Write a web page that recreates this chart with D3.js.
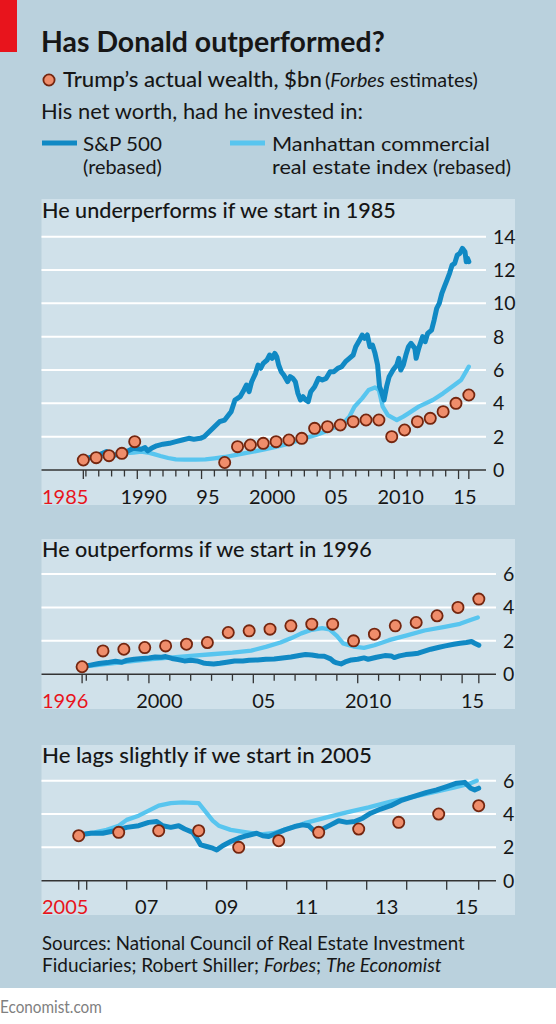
<!DOCTYPE html>
<html><head><meta charset="utf-8">
<script src="https://cdn.jsdelivr.net/npm/d3@7"></script>
<style>
html,body{margin:0;padding:0;background:#fff;}
svg{display:block;}
text{font-family:Lato,"Open Sans",sans-serif;fill:#161616;}
</style></head><body>
<svg id="c" width="556" height="1024"></svg>
<script>
// ---------- DATA ----------
const forbesYears  = [1985,1986,1987,1988,1989,1996,1997,1998,1999,2000,2001,2002,2003,2004,2005,2006,2007,2008,2009,2010,2011,2012,2013,2014,2015];
const forbesWealth = [0.6,0.74,0.86,1.0,1.7,0.45,1.4,1.5,1.6,1.7,1.8,1.9,2.5,2.6,2.7,2.9,3.0,3.0,2.0,2.4,2.9,3.1,3.5,4.0,4.5];
const forbesMonthFraction = 0.8; // estimates published each autumn

// Panel 1: start 1985
const sp85Dates = [1985.8,1986.3,1986.7,1987.3,1987.6,1987.85,1988.3,1988.8,1989.3,1989.7,1990.3,1990.6,1990.8,1991.1,1991.5,1992.0,1992.5,1993.0,1993.5,1994.0,1994.4,1994.9,1995.2,1995.6,1996.0,1996.4,1996.8,1997.1,1997.3,1997.6,1997.8,1998.0,1998.3,1998.5,1998.7,1998.9,1999.2,1999.4,1999.6,1999.8,2000.1,2000.3,2000.5,2000.7,2000.85,2001.0,2001.2,2001.4,2001.7,2001.9,2002.1,2002.3,2002.5,2002.7,2002.9,2003.1,2003.3,2003.5,2003.8,2004.1,2004.4,2004.7,2005.0,2005.3,2005.6,2005.9,2006.2,2006.5,2006.8,2007.0,2007.3,2007.5,2007.7,2007.9,2008.1,2008.3,2008.5,2008.7,2008.85,2009.0,2009.2,2009.4,2009.6,2009.9,2010.2,2010.35,2010.5,2010.7,2010.9,2011.1,2011.3,2011.6,2011.7,2011.9,2012.2,2012.4,2012.6,2012.9,2013.1,2013.3,2013.5,2013.7,2013.9,2014.1,2014.3,2014.5,2014.7,2014.9,2015.1,2015.3,2015.5,2015.6,2015.7,2015.8];
const sp85Values = [0.6,0.75,0.8,1.0,1.1,0.85,0.9,1.0,1.15,1.3,1.25,1.35,1.15,1.3,1.45,1.55,1.6,1.7,1.8,1.9,1.85,1.9,2.0,2.3,2.6,2.9,3.0,3.3,3.5,4.2,4.3,4.4,4.8,5.1,4.7,5.3,5.8,6.3,6.1,6.4,6.6,6.9,6.7,7.0,6.8,6.3,5.9,5.7,5.3,5.6,5.5,5.3,4.6,4.2,4.4,4.2,4.1,4.7,5.0,5.5,5.4,5.5,5.9,5.9,6.1,6.2,6.5,6.7,6.9,7.4,7.8,8.1,7.9,8.1,7.4,7.5,7.0,6.3,5.0,4.7,4.2,5.0,5.6,6.0,6.3,6.7,6.0,6.3,6.9,7.4,7.6,7.3,6.7,7.3,8.0,7.7,8.2,8.4,9.0,9.7,10.0,10.6,11.0,11.4,11.8,12.3,12.4,12.9,13.0,13.3,13.1,12.5,12.7,12.5];
const re85Dates = [1985.8,1986.3,1987.0,1987.9,1988.8,1989.7,1990.3,1990.8,1991.3,1991.8,1992.4,1993.0,1993.7,1994.5,1995.3,1996.0,1996.8,1997.5,1998.2,1999.0,1999.8,2000.6,2001.5,2002.3,2003.0,2003.9,2004.6,2005.2,2005.9,2006.5,2006.9,2007.5,2008.0,2008.5,2008.8,2009.1,2009.5,2010.2,2010.7,2011.1,2011.9,2013.0,2013.8,2014.6,2015.2,2015.8];
const re85Values = [0.62,0.75,0.85,0.9,1.0,1.05,1.1,1.05,0.95,0.84,0.72,0.64,0.62,0.62,0.64,0.7,0.78,0.88,0.98,1.1,1.22,1.36,1.52,1.72,1.9,2.1,2.3,2.5,2.7,3.2,3.8,4.3,4.8,4.95,4.8,3.8,3.3,3.0,3.2,3.4,3.8,4.2,4.6,5.05,5.4,6.2];

// Panel 2: start 1996
const sp96Dates = [1996.8,1997.2,1997.6,1998.0,1998.4,1998.7,1998.9,1999.3,1999.7,2000.0,2000.3,2000.6,2000.8,2001.1,2001.4,2001.7,2002.0,2002.3,2002.6,2002.8,2003.1,2003.4,2003.8,2004.1,2004.5,2004.8,2005.2,2005.6,2006.0,2006.4,2006.8,2007.2,2007.5,2007.8,2008.1,2008.4,2008.7,2008.85,2009.0,2009.2,2009.4,2009.7,2010.0,2010.3,2010.5,2010.9,2011.3,2011.6,2011.75,2012.0,2012.3,2012.6,2012.9,2013.2,2013.5,2013.9,2014.2,2014.6,2014.9,2015.2,2015.45,2015.6,2015.8];
const sp96Values = [0.46,0.55,0.65,0.7,0.78,0.72,0.82,0.9,0.95,0.98,1.04,1.02,1.06,0.95,0.88,0.8,0.84,0.8,0.68,0.64,0.62,0.66,0.74,0.8,0.8,0.84,0.86,0.9,0.92,0.98,1.04,1.12,1.18,1.16,1.1,1.08,0.92,0.76,0.68,0.62,0.74,0.86,0.9,0.98,0.9,1.02,1.12,1.1,1.0,1.1,1.18,1.22,1.26,1.38,1.5,1.62,1.7,1.8,1.86,1.9,1.96,1.86,1.74];
const re96Dates = [1996.8,1997.5,1998.0,1999.0,2000.0,2001.0,2002.0,2003.0,2004.0,2004.9,2005.6,2006.3,2006.8,2007.3,2007.8,2008.3,2008.65,2009.0,2009.3,2009.8,2010.3,2010.8,2011.5,2012.4,2013.2,2014.1,2014.9,2015.4,2015.75];
const re96Values = [0.46,0.55,0.62,0.76,0.9,1.0,1.1,1.2,1.3,1.42,1.64,1.9,2.15,2.45,2.66,2.76,2.68,2.3,1.85,1.66,1.58,1.74,2.04,2.34,2.62,2.82,3.02,3.25,3.4];

// Panel 3: start 2005
const sp05Dates = [2005.8,2006.1,2006.4,2006.7,2007.0,2007.3,2007.55,2007.75,2007.9,2008.1,2008.3,2008.45,2008.65,2008.75,2008.85,2009.0,2009.15,2009.25,2009.4,2009.6,2009.8,2010.0,2010.25,2010.4,2010.55,2010.75,2010.95,2011.2,2011.4,2011.55,2011.7,2011.85,2012.1,2012.3,2012.5,2012.7,2012.9,2013.1,2013.35,2013.6,2013.85,2014.1,2014.3,2014.5,2014.75,2015.0,2015.25,2015.45,2015.6,2015.7,2015.8];
const sp05Values = [2.75,2.85,2.85,3.0,3.2,3.3,3.5,3.55,3.3,3.2,3.3,3.1,2.9,2.55,2.15,2.05,1.95,1.85,2.1,2.35,2.55,2.7,2.85,2.7,2.65,2.85,3.05,3.25,3.35,3.3,2.95,3.05,3.35,3.6,3.5,3.55,3.75,4.05,4.3,4.5,4.8,5.0,5.15,5.3,5.45,5.65,5.85,5.9,5.55,5.45,5.55];
const re05Dates = [2005.8,2006.2,2006.5,2006.8,2007.0,2007.3,2007.55,2007.8,2008.1,2008.4,2008.8,2008.95,2009.15,2009.3,2009.6,2010.0,2010.35,2010.65,2011.0,2011.45,2012.0,2012.5,2013.05,2013.6,2014.1,2014.65,2015.2,2015.55,2015.75];
const re05Values = [2.75,2.9,3.05,3.3,3.65,3.9,4.2,4.5,4.65,4.7,4.65,4.2,3.6,3.3,3.05,2.9,2.78,2.85,3.1,3.45,3.8,4.1,4.4,4.75,5.0,5.3,5.6,5.8,6.0];

// Axis ticks / labels
const yTicks1 = [0,2,4,6,8,10,12,14];
const yTicks23 = [0,2,4,6];
const xLabelYears1 = [1985,1990,1995,2000,2005,2010,2015];
const xLabelText1  = ["1985","1990","95","2000","05","2010","15"];
const xLabelYears2 = [1996,2000,2005,2010,2015];
const xLabelText2  = ["1996","2000","05","2010","15"];
const xLabelYears3 = [2005,2007,2009,2011,2013,2015];
const xLabelText3  = ["2005","07","09","11","13","15"];

// ---------- STYLE ----------
const C = {
  outer:"#bad1dd", panel:"#d0e1ea", red:"#e8141c", sp:"#1089c4", re:"#58c5ef",
  dotFill:"#ef8d6b", dotStroke:"#74260f", axis:"#333", text:"#161616"
};

const svg = d3.select("#c");
svg.append("rect").attr("x",0).attr("y",0).attr("width",556).attr("height",988).attr("fill",C.outer);
svg.append("rect").attr("x",0).attr("y",0).attr("width",17).attr("height",52).attr("fill",C.red);

function fit(t, target){
  const w = t.node().getBBox().width;
  if (w > 0) {
    const x = +t.attr("x");
    t.attr("transform", `translate(${x},0) scale(${target/w},1) translate(${-x},0)`);
  }
  return t;
}

// Title
fit(svg.append("text").attr("x",41).attr("y",52).attr("font-size",29).attr("font-weight",700)
  .text("Has Donald outperformed?"), 344);

// Legend
svg.append("circle").attr("cx",49).attr("cy",80).attr("r",5.6)
  .attr("fill",C.dotFill).attr("stroke",C.dotStroke).attr("stroke-width",1.8);
fit(svg.append("text").attr("x",63).attr("y",87).attr("font-size",21).attr("font-weight",500)
  .text("Trump’s actual wealth, $bn"), 259);
{
  const t = svg.append("text").attr("x",325).attr("y",87).attr("font-size",19);
  t.append("tspan").text("(");
  t.append("tspan").attr("font-style","italic").text("Forbes");
  t.append("tspan").text(" estimates)");
  fit(t,153);
}
fit(svg.append("text").attr("x",41).attr("y",119).attr("font-size",21)
  .text("His net worth, had he invested in:"), 322);

svg.append("line").attr("x1",42).attr("x2",77).attr("y1",143).attr("y2",143)
  .attr("stroke",C.sp).attr("stroke-width",5);
fit(svg.append("text").attr("x",83).attr("y",151.5).attr("font-size",20).text("S&P 500"),79);
fit(svg.append("text").attr("x",83).attr("y",174).attr("font-size",18.5).text("(rebased)"),79);

svg.append("line").attr("x1",230).attr("x2",265).attr("y1",143).attr("y2",143)
  .attr("stroke",C.re).attr("stroke-width",5);
fit(svg.append("text").attr("x",272).attr("y",151.5).attr("font-size",20).text("Manhattan commercial"),218);
fit(svg.append("text").attr("x",272).attr("y",174).attr("font-size",19.5).text("real estate index"),156);
fit(svg.append("text").attr("x",433).attr("y",174).attr("font-size",18.5).text("(rebased)"),78);

// ---------- PANELS ----------
const zip = (a,b) => a.map((d,i)=>[d,b[i]]);

function panel(cfg){
  const g = svg.append("g");
  g.append("rect").attr("x",41.5).attr("y",cfg.top).attr("width",515-41.5).attr("height",cfg.bottom-cfg.top)
    .attr("fill",C.panel);
  fit(g.append("text").attr("x",42).attr("y",cfg.titleY).attr("font-size",21).attr("font-weight",500)
    .text(cfg.title), cfg.titleW);

  const x = d3.scaleLinear().domain(cfg.xDomain).range(cfg.xRange);
  const y = d3.scaleLinear().domain(cfg.yDomain).range(cfg.yRange);

  // gridlines
  g.selectAll(".grid").data(cfg.yTicks.filter(v=>v>0)).join("line")
    .attr("x1",41.5).attr("x2",cfg.gridRight).attr("y1",d=>y(d)).attr("y2",d=>y(d))
    .attr("stroke","#fff").attr("stroke-width",2);
  // y labels
  g.selectAll(".yl").data(cfg.yTicks).join("text")
    .attr("x",cfg.gridRight+7).attr("y",d=>y(d)+7).attr("font-size",19.5)
    .text(d=>d);
  // axis
  g.append("line").attr("x1",41.5).attr("x2",cfg.gridRight).attr("y1",y(0)).attr("y2",y(0))
    .attr("stroke",C.axis).attr("stroke-width",1.4);
  const tickYears = d3.range(Math.ceil(cfg.start), Math.floor(cfg.end)+1);
  const ticks = [cfg.start, ...tickYears, cfg.end];
  g.selectAll(".tk").data(ticks).join("line")
    .attr("x1",d=>x(d)).attr("x2",d=>x(d)).attr("y1",y(0)).attr("y2",d=>y(0)+ (cfg.longTick(d)?9:6.5))
    .attr("stroke",C.axis).attr("stroke-width",1.3);
  // x labels
  g.selectAll(".xl").data(cfg.labelYears).join("text")
    .attr("x",(d,i)=> i===0 ? 42 : x(d+0.5))
    .attr("text-anchor",(d,i)=> i===0 ? "start" : "middle")
    .attr("y",cfg.bottom-1).attr("font-size",20)
    .style("fill",(d,i)=> i===0 ? C.red : C.text)
    .text((d,i)=>cfg.labelText[i]);

  const line = d3.line().x(d=>x(d[0])).y(d=>y(d[1]));
  g.append("path").datum(zip(cfg.reDates,cfg.reValues)).attr("d",line)
    .attr("fill","none").attr("stroke",C.re).attr("stroke-width",4.3).attr("stroke-linejoin","round").attr("stroke-linecap","round");
  g.append("path").datum(zip(cfg.spDates,cfg.spValues)).attr("d",line)
    .attr("fill","none").attr("stroke",C.sp).attr("stroke-width",5).attr("stroke-linejoin","round").attr("stroke-linecap","round");

  const dots = forbesYears.map((yr,i)=>[yr+forbesMonthFraction, forbesWealth[i]]).filter(d=>d[0]>=cfg.start-0.01);
  g.selectAll(".dot").data(dots).join("circle")
    .attr("cx",d=>x(d[0])).attr("cy",d=>y(d[1])).attr("r",5.6)
    .attr("fill",C.dotFill).attr("stroke",C.dotStroke).attr("stroke-width",1.8);
}

panel({
  top:199, bottom:505, titleY:218, title:"He underperforms if we start in 1985", titleW:354,
  xDomain:[1985,2016], xRange:[73.05,471.4], yDomain:[0,14], yRange:[470,236.7],
  gridRight:486, yTicks:yTicks1, start:1985.8, end:2015.8,
  longTick:d=> d===1985.8 || d===2015.8 || d%5===0,
  labelYears:xLabelYears1, labelText:xLabelText1,
  spDates:sp85Dates, spValues:sp85Values, reDates:re85Dates, reValues:re85Values
});
panel({
  top:539, bottom:709, titleY:557, title:"He outperforms if we start in 1996", titleW:330,
  xDomain:[1996,2016], xRange:[65.4,483.0], yDomain:[0,6], yRange:[674.3,574],
  gridRight:496, yTicks:yTicks23, start:1996.8, end:2015.8,
  longTick:d=> d===1996.8 || d===2015.8 || d%5===0,
  labelYears:xLabelYears2, labelText:xLabelText2,
  spDates:sp96Dates, spValues:sp96Values, reDates:re96Dates, reValues:re96Values
});
panel({
  top:745, bottom:915, titleY:763, title:"He lags slightly if we start in 2005", titleW:330,
  xDomain:[2005,2016], xRange:[46.7,486.7], yDomain:[0,6], yRange:[880.7,780.7],
  gridRight:496, yTicks:yTicks23, start:2005.8, end:2015.8,
  longTick:d=> true,
  labelYears:xLabelYears3, labelText:xLabelText3,
  spDates:sp05Dates, spValues:sp05Values, reDates:re05Dates, reValues:re05Values
});

// Sources
fit(svg.append("text").attr("x",42).attr("y",950).attr("font-size",19.5)
  .text("Sources: National Council of Real Estate Investment"), 423);
{
  const t = svg.append("text").attr("x",42).attr("y",972).attr("font-size",19.5);
  t.append("tspan").text("Fiduciaries; Robert Shiller; ");
  t.append("tspan").attr("font-style","italic").text("Forbes");
  t.append("tspan").text("; ");
  t.append("tspan").attr("font-style","italic").text("The Economist");
  fit(t, 400);
}
fit(svg.append("text").attr("x",0).attr("y",1013).attr("font-size",17).style("fill","#808080")
  .text("Economist.com"), 102);
</script>
</body></html>
